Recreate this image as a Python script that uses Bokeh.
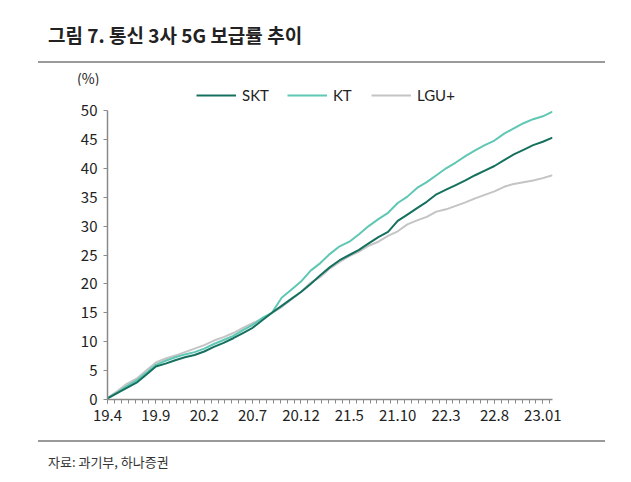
from bokeh.plotting import figure
from bokeh.layouts import column
from bokeh.models import Range1d, FixedTicker, Legend, LegendItem, Div
from bokeh.embed import file_html
from bokeh.resources import INLINE

FONT = "Noto Sans CJK KR"
LEG_FONT = "Lato"

title_text = "그림 7. 통신 3사 5G 보급률 추이"
unit_text = "(%)"
source_text = "자료: 과기부, 하나증권"

# monthly categories 2019.04 .. 2023.02
months = []
for yy in range(19, 24):
    for mm in range(1, 13):
        if (yy == 19 and mm < 4) or (yy == 23 and mm > 2):
            continue
        months.append(f"{yy}.{mm}")

tick_labels = ["19.4", "19.9", "20.2", "20.7", "20.12", "21.5", "21.10", "22.3", "22.8", "23.01"]

skt = [0.2, 1.1, 2.0, 2.9, 4.3, 5.7, 6.2, 6.8, 7.3, 7.7,
       8.3, 9.1, 9.8, 10.6, 11.5, 12.4, 13.7, 15.0, 16.2, 17.4,
       18.6, 20.0, 21.5, 22.9, 24.1, 25.0, 25.9, 27.0, 28.1, 29.0,
       30.9, 32.0, 33.1, 34.2, 35.5, 36.3, 37.1, 37.9, 38.8, 39.6,
       40.4, 41.4, 42.4, 43.2, 44.0, 44.6, 45.3]
kt = [0.2, 1.2, 2.3, 3.3, 4.6, 6.0, 6.7, 7.3, 7.8, 8.2,
      8.8, 9.6, 10.3, 11.0, 12.0, 12.9, 14.1, 15.0, 17.6, 19.0,
      20.4, 22.3, 23.6, 25.2, 26.5, 27.3, 28.6, 30.0, 31.2, 32.3,
      34.0, 35.1, 36.6, 37.6, 38.8, 40.0, 41.0, 42.1, 43.1, 44.0,
      44.8, 46.0, 46.9, 47.8, 48.5, 49.0, 49.8]
lgu = [0.3, 1.4, 2.7, 3.6, 5.0, 6.4, 7.1, 7.6, 8.2, 8.8,
       9.4, 10.2, 10.8, 11.5, 12.4, 13.2, 14.0, 15.0, 16.0, 17.3,
       18.6, 20.2, 21.2, 22.7, 23.8, 24.8, 25.6, 26.6, 27.3, 28.3,
       29.1, 30.3, 31.0, 31.6, 32.5, 32.9, 33.5, 34.1, 34.8, 35.4,
       36.0, 36.8, 37.3, 37.6, 37.9, 38.3, 38.8]

x = list(range(len(months)))

W = 615
top_h = 85          # page y where the plot frame starts
frame_bottom_page = 399
y50_page = 110
bottom_page = 432
fig_h = bottom_page - top_h
frame_h = frame_bottom_page - top_h
y_max = 50 * frame_h / (frame_bottom_page - y50_page)

top_div = Div(width=W, height=top_h, margin=(0, 0, 0, 0), text=(
    f'<div style="height:61px;box-sizing:border-box;padding:20px 0 0 48px;line-height:30px;'
    f'font-family:\'{FONT}\';font-weight:bold;font-size:19px;color:#222;white-space:nowrap">{title_text}</div>'
    '<div style="margin-left:38px;width:567px;height:0;border-top:2px solid #9a9a9a"></div>'
    f'<div style="height:22px;box-sizing:border-box;padding:8px 0 0 77px;line-height:14px;'
    f'font-family:\'{FONT}\';font-size:14px;color:#222;white-space:nowrap">{unit_text}</div>'))

p = figure(width=W, height=fig_h, output_backend="svg", toolbar_location=None,
           x_range=Range1d(0, len(months) - 1), y_range=Range1d(0, y_max),
           min_border_left=107, min_border_right=W - 552, min_border_top=0,
           min_border_bottom=bottom_page - frame_bottom_page, margin=(0, 0, 0, 0))
p.xgrid.visible = False
p.ygrid.visible = False
p.outline_line_color = None
p.background_fill_color = "white"
p.border_fill_color = "white"

r_lgu = p.line(x, lgu, line_color="#c4c4c4", line_width=2)
r_kt = p.line(x, kt, line_color="#5fc7b4", line_width=2)
r_skt = p.line(x, skt, line_color="#16705f", line_width=2)

major = [i * 5 for i in range(len(tick_labels))]
minor = [k * 5 / 7 for k in range(int((len(months) - 1) * 7 / 5) + 1)]
p.xaxis.ticker = FixedTicker(ticks=major, minor_ticks=minor)
p.xaxis.major_label_overrides = {m: t for m, t in zip(major, tick_labels)}
p.yaxis.ticker = FixedTicker(ticks=list(range(0, 51, 5)))
p.yaxis.bounds = (0, 50)

for ax in (p.xaxis[0], p.yaxis[0]):
    ax.axis_line_color = "#8a8a8a"
    ax.axis_line_width = 1.5
    ax.major_tick_line_color = "#8a8a8a"
    ax.minor_tick_line_color = "#8a8a8a"
    ax.major_tick_in = 0
    ax.major_tick_out = 4
    ax.minor_tick_in = 0
    ax.major_label_text_font = FONT
    ax.major_label_text_font_size = "15px"
    ax.major_label_text_color = "#222222"
p.xaxis.minor_tick_out = 4
p.yaxis.minor_tick_line_color = None
p.xaxis.major_label_standoff = 6
p.yaxis.major_label_standoff = 6

leg_h = 16
legend_center_page = 96
legend = Legend(items=[LegendItem(label="SKT", renderers=[r_skt]),
                       LegendItem(label="KT", renderers=[r_kt]),
                       LegendItem(label="LGU+", renderers=[r_lgu])],
                orientation="horizontal",
                location=(89, frame_bottom_page - legend_center_page - leg_h // 2),
                glyph_width=40, glyph_height=leg_h, label_height=leg_h,
                label_standoff=6, spacing=18,
                padding=0, margin=0, border_line_color=None, background_fill_alpha=0,
                label_text_font=LEG_FONT, label_text_font_size="15px", label_text_color="#222222")
p.add_layout(legend)

bottom_div = Div(width=W, height=40, margin=(0, 0, 0, 0), text=(
    '<div style="height:8px"></div>'
    '<div style="margin-left:38px;width:567px;height:0;border-top:2px solid #9a9a9a"></div>'
    f'<div style="box-sizing:border-box;padding:10px 0 0 48px;line-height:20px;'
    f'font-family:\'{FONT}\';font-size:13px;color:#333;white-space:nowrap">{source_text}</div>'))

layout = column(top_div, p, bottom_div, spacing=0)
open("out.html", "w").write(file_html(layout, INLINE))
